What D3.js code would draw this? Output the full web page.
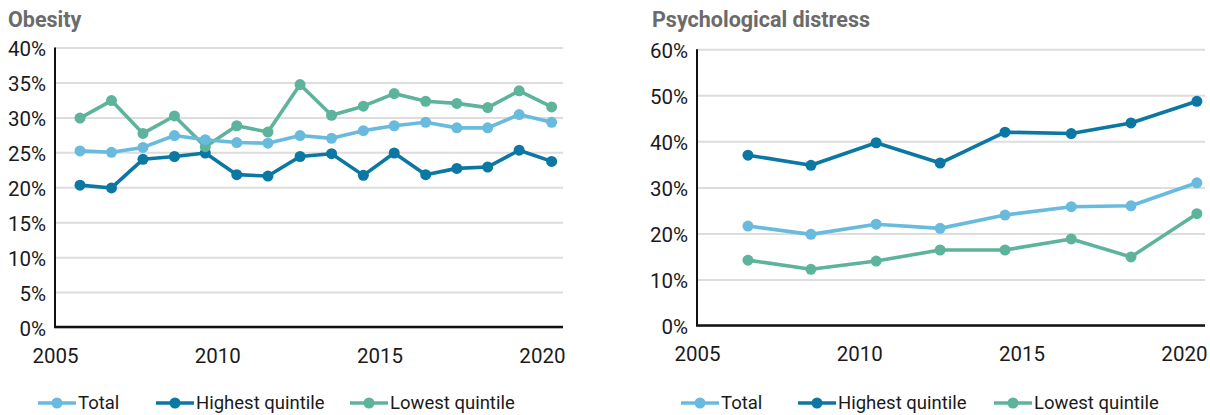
<!DOCTYPE html>
<html>
<head>
<meta charset="utf-8">
<script src="https://cdn.jsdelivr.net/npm/d3@7"></script>
<style>
  body { margin: 0; background: #fff; }
  svg { font-family: Roboto, "Noto Sans", sans-serif; }
</style>
</head>
<body>
<div id="chart"></div>
<script>
// Series names and colours
var series__Names = ["Total", "Highest quintile", "Lowest quintile"];
var series__Colors = ["#69bbde", "#0b77a3", "#5db39b"];

// Obesity panel data (survey points, as decimal years)
var obesity__Years = [2005.77, 2006.74, 2007.71, 2008.68, 2009.63, 2010.6, 2011.56, 2012.55,
  2013.52, 2014.5, 2015.45, 2016.42, 2017.38, 2018.33, 2019.3, 2020.3];
var obesity__Total = [25.2, 25.0, 25.7, 27.4, 26.8, 26.4, 26.3, 27.4, 27.0, 28.1, 28.8, 29.3, 28.5, 28.5, 30.4, 29.3];
var obesity__Highest = [20.3, 19.9, 24.0, 24.4, 24.9, 21.8, 21.6, 24.4, 24.8, 21.7, 24.9, 21.8, 22.7, 22.9, 25.3, 23.7];
var obesity__Lowest = [29.9, 32.4, 27.7, 30.2, 25.8, 28.8, 27.9, 34.7, 30.3, 31.6, 33.4, 32.3, 32.0, 31.4, 33.8, 31.5];
var obesity__Ticks = [0, 5, 10, 15, 20, 25, 30, 35, 40];

// Psychological distress panel data
var distress__Years = [2006.57, 2008.51, 2010.52, 2012.49, 2014.49, 2016.53, 2018.37, 2020.4];
var distress__Total = [21.6, 19.8, 22.0, 21.1, 24.0, 25.8, 26.0, 31.0];
var distress__Highest = [37.0, 34.8, 39.7, 35.3, 42.0, 41.7, 44.0, 48.7];
var distress__Lowest = [14.2, 12.2, 14.0, 16.4, 16.4, 18.8, 14.9, 24.3];
var distress__Ticks = [0, 10, 20, 30, 40, 50, 60];

// X axis tick labels (years)
var year__Ticks = [2005, 2010, 2015, 2020];

// Define SVG area dimensions
var svg__Width = 1210;
var svg__Height = 415;

var svg = d3.select("#chart")
  .append("svg")
  .attr("width", svg__Width)
  .attr("height", svg__Height);

// Draw one panel
function drawPanel(opts) {
  var g = svg.append("g");

  var xScale = d3.scaleLinear()
    .domain([2005, 2020.65])
    .range([opts.left, opts.left + 508]);

  var yScale = d3.scaleLinear()
    .domain([0, opts.yMax])
    .range([opts.bottom, opts.top]);

  // Panel title
  g.append("text")
    .attr("x", opts.titleX)
    .attr("y", 27)
    .attr("font-size", "21.5px")
    .attr("font-weight", "bold")
    .attr("fill", "#6b6b6b")
    .text(opts.title);

  // Gridlines
  g.append("g")
    .attr("transform", `translate(${opts.left}, 0)`)
    .call(d3.axisLeft(yScale).tickValues(opts.ticks).tickSize(-508).tickFormat(""))
    .call(a => a.select(".domain").remove())
    .call(a => a.selectAll("line").attr("stroke", "#dedcdc").attr("stroke-width", 2));

  // Y axis labels
  g.append("g")
    .attr("transform", `translate(${opts.left}, 0)`)
    .call(d3.axisLeft(yScale).tickValues(opts.ticks).tickSize(0).tickPadding(9)
      .tickFormat(d => d + "%"))
    .call(a => a.select(".domain").remove())
    .call(a => a.selectAll("text")
      .attr("font-size", "20.5px")
      .attr("font-family", "Roboto, sans-serif")
      .attr("fill", "#1a1a1a")
      .attr("dy", "0.4em"));

  // X axis labels
  g.append("g")
    .attr("transform", `translate(0, ${opts.bottom})`)
    .call(d3.axisBottom(xScale).tickValues(year__Ticks).tickSize(0).tickPadding(21)
      .tickFormat(d3.format("d")))
    .call(a => a.select(".domain").remove())
    .call(a => a.selectAll("text")
      .attr("font-size", "20.5px")
      .attr("font-family", "Roboto, sans-serif")
      .attr("fill", "#1a1a1a"));

  // Axis lines
  g.append("line")
    .attr("x1", opts.left).attr("x2", opts.left)
    .attr("y1", opts.top).attr("y2", opts.bottom)
    .attr("stroke", "#111").attr("stroke-width", 2);
  g.append("line")
    .attr("x1", opts.left - 1).attr("x2", opts.left + 508)
    .attr("y1", opts.bottom).attr("y2", opts.bottom)
    .attr("stroke", "#111").attr("stroke-width", 2.5);

  var line = d3.line()
    .x(d => xScale(d.year))
    .y(d => yScale(d.value));

  // Lines and markers, drawn highest first so total sits on top like the original
  var order = [1, 2, 0];
  order.forEach(function(i) {
    var data = opts.years.map((y, j) => ({ year: y, value: opts.values[i][j] }));
    g.append("path")
      .datum(data)
      .attr("fill", "none")
      .attr("stroke", series__Colors[i])
      .attr("stroke-width", 3.6)
      .attr("stroke-linejoin", "round")
      .attr("d", line);
    g.selectAll(".pt" + i)
      .data(data)
      .enter()
      .append("circle")
      .attr("cx", d => xScale(d.year))
      .attr("cy", d => yScale(d.value))
      .attr("r", 5.5)
      .attr("fill", series__Colors[i]);
  });

  // Legend
  var legend = g.append("g").attr("transform", `translate(0, 403)`);
  series__Names.forEach(function(name, i) {
    var lx = opts.legendX[i];
    legend.append("line")
      .attr("x1", lx).attr("x2", lx + 38)
      .attr("y1", 0).attr("y2", 0)
      .attr("stroke", series__Colors[i])
      .attr("stroke-width", 3.6);
    legend.append("circle")
      .attr("cx", lx + 19).attr("cy", 0).attr("r", 5.5)
      .attr("fill", series__Colors[i]);
    legend.append("text")
      .attr("x", lx + 40)
      .attr("y", 0)
      .attr("dy", "0.35em")
      .attr("font-size", "18.5px")
      .attr("fill", "#1a1a1a")
      .text(name);
  });
}

drawPanel({
  title: "Obesity",
  titleX: 8,
  left: 55,
  top: 47.5,
  bottom: 327,
  yMax: 40,
  ticks: obesity__Ticks,
  years: obesity__Years,
  values: [obesity__Total, obesity__Highest, obesity__Lowest],
  legendX: [38, 156, 350]
});

drawPanel({
  title: "Psychological distress",
  titleX: 652,
  left: 697,
  top: 49.3,
  bottom: 325.5,
  yMax: 60,
  ticks: distress__Ticks,
  years: distress__Years,
  values: [distress__Total, distress__Highest, distress__Lowest],
  legendX: [681, 798, 994]
});
</script>
</body>
</html>
